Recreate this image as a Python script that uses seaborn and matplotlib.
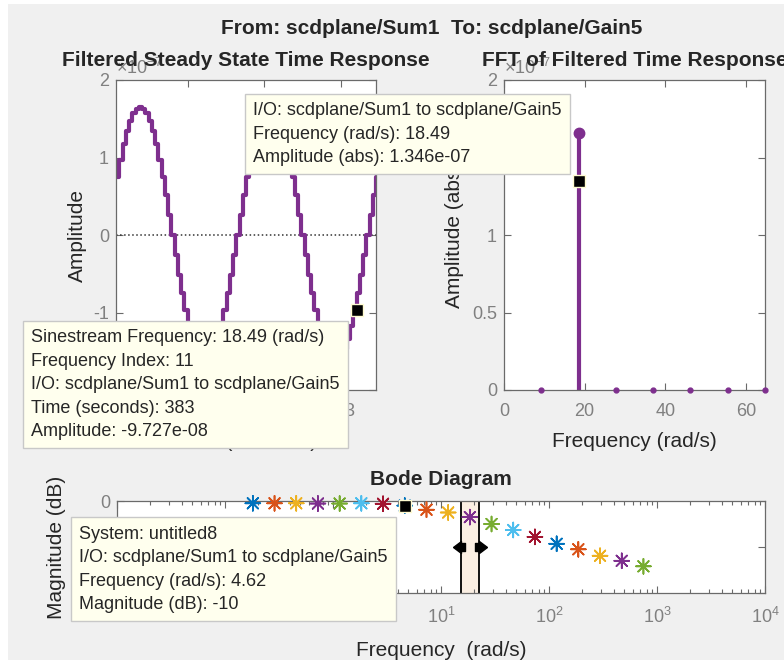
import numpy as np
import matplotlib
matplotlib.use("Agg")
import matplotlib.pyplot as plt
from matplotlib.path import Path
from matplotlib.patches import Rectangle
from matplotlib.ticker import FormatStrFormatter
import seaborn as sns

# ---- data ----
# filtered steady state time response (amplitude in units of 1e-7)
time_start = 382.413      # s, first sample shown
sample_time = 0.008495    # s
amp_time_e7 = [
    0.75, 0.97, 1.17, 1.34, 1.47, 1.57, 1.63, 1.65, 1.63, 1.57,
    1.47, 1.34, 1.17, 0.97, 0.75, 0.51, 0.26, 0.00, -0.26, -0.51,
    -0.75, -0.97, -1.17, -1.34, -1.47, -1.57, -1.63, -1.65, -1.63, -1.57,
    -1.47, -1.34, -1.17, -0.97, -0.75, -0.51, -0.26, 0.00, 0.26, 0.51,
    0.75, 0.97, 1.17, 1.34, 1.47, 1.57, 1.63, 1.65, 1.63, 1.57,
    1.47, 1.34, 1.17, 0.97, 0.75, 0.51, 0.26, 0.00, -0.26, -0.51,
    -0.75, -0.97, -1.17, -1.34, -1.47, -1.57, -1.63, -1.65, -1.63, -1.57,
    -1.47, -1.34, -1.17, -0.97, -0.75, -0.51, -0.26, 0.00, 0.26, 0.51,
    0.75,
]
time_tip_index = 73
time_ticks = [382.6, 382.8, 383.0]

# FFT of filtered response
fft_freq = [9.245, 18.49, 27.74, 36.98, 46.23, 55.47, 64.72]
fft_amp_e7 = [0.0, 1.66, 0.0, 0.0, 0.0, 0.0, 0.0]
fft_tip_amp_e7 = 1.346

# Bode diagram (frd points)
bode_freq = [0.181, 0.2875, 0.4567, 0.7253, 1.152, 1.830, 2.907, 4.62, 7.34,
             11.65, 18.49, 29.37, 46.65, 74.09, 117.7, 186.9, 296.9, 471.5, 748.9]
bode_mag_db = [-5, -5, -5, -5.5, -5.5, -5, -6, -10, -19,
               -25, -35, -50, -63, -78, -93, -105, -119, -130, -142]
bode_tip_index = 7
band_lo, band_hi = 15.2, 22.5

tip_fft = "I/O: scdplane/Sum1 to scdplane/Gain5\nFrequency (rad/s): 18.49\nAmplitude (abs): 1.346e-07"
tip_time = ("Sinestream Frequency: 18.49 (rad/s)\nFrequency Index: 11\n"
            "I/O: scdplane/Sum1 to scdplane/Gain5\nTime (seconds): 383\nAmplitude: -9.727e-08")
tip_bode = "System: untitled8\nI/O: scdplane/Sum1 to scdplane/Gain5\nFrequency (rad/s): 4.62\nMagnitude (dB): -10"

matlab_colors = ["#0072BD", "#D95319", "#EDB120", "#7E2F8E", "#77AC30", "#4DBEEE", "#A2142F"]
purple = "#7E2F8E"
gray_bg = "#f0f0f0"

sns.set_theme(style="white")
plt.rcParams.update({
    "font.family": ["Liberation Sans", "DejaVu Sans"],
    "axes.unicode_minus": False,
    "mathtext.fontset": "custom",
    "mathtext.rm": "Liberation Sans",
    "mathtext.it": "Liberation Sans:italic",
    "mathtext.bf": "Liberation Sans:bold",
    "axes.edgecolor": "#6a6a6a",
    "axes.linewidth": 0.9,
    "text.color": "#262626",
    "axes.labelcolor": "#262626",
})

W, H = 784, 660
fig = plt.figure(figsize=(W / 100, H / 100), dpi=100)
fig.patch.set_facecolor("white")
fig.patches.append(Rectangle((8 / W, 0), 1, (H - 4) / H, transform=fig.transFigure,
                             facecolor=gray_bg, edgecolor="none", zorder=-5))


def px_axes(x0, y0, x1, y1):
    return fig.add_axes([x0 / W, 1 - y1 / H, (x1 - x0) / W, (y1 - y0) / H])


def style(ax):
    ax.set_facecolor("white")
    ax.tick_params(which="both", direction="in", top=True, right=True,
                   bottom=True, left=True, color="#6a6a6a", labelcolor="#808080",
                   labelsize=13, width=0.8)
    ax.tick_params(which="major", length=5)
    ax.tick_params(which="minor", length=3)
    ax.tick_params(axis="x", pad=9.4)
    ax.tick_params(axis="y", pad=5)
    for s in ax.spines.values():
        s.set_visible(True)


tip_box = dict(boxstyle="square,pad=0.45", fc="#ffffee", ec="#c8c8c8", lw=1)
tip_kw = dict(textcoords="offset pixels", ha="right", multialignment="left",
              fontsize=13, color="#262626", linespacing=1.5, bbox=tip_box,
              zorder=20, annotation_clip=False)
dt_kw = dict(marker="s", ms=9, color="black", mec="#fffbd0", mew=1, zorder=15, clip_on=False)

# ---- time response ----
ax_t = px_axes(116, 80, 376, 390)
time_s = time_start + sample_time * np.arange(len(amp_time_e7))
sns.lineplot(x=time_s, y=amp_time_e7, ax=ax_t, color=purple, linewidth=3,
             drawstyle="steps-post", sort=False)
ax_t.axhline(0, ls=":", color="#333333", lw=1.1, zorder=1)
ax_t.set_xlim(time_s[0], time_s[-1])
ax_t.set_ylim(-2, 2)
ax_t.set_xticks(time_ticks)
ax_t.xaxis.set_major_formatter(FormatStrFormatter("%g"))
ax_t.set_yticks([-2, -1, 0, 1, 2])
ax_t.yaxis.set_major_formatter(FormatStrFormatter("%g"))
style(ax_t)
ax_t.set_title("Filtered Steady State Time Response", fontsize=15, fontweight="bold", pad=10)
ax_t.set_ylabel("Amplitude", fontsize=15, labelpad=4.5)
ax_t.set_xlabel("Time (seconds)", fontsize=15, labelpad=8.5)
ax_t.text(0.0, 1.005, r"$\times10^{-7}$", transform=ax_t.transAxes, fontsize=13,
          color="#808080", ha="left", va="bottom")
# datatip sits on the stair vertex closing the selected sample
tip_xy = (time_s[time_tip_index + 1], amp_time_e7[time_tip_index])
ax_t.plot(*tip_xy, **dt_kw)
ax_t.annotate(tip_time, xy=tip_xy, xytext=(-17, -19), va="top", **tip_kw)

# ---- FFT ----
ax_f = px_axes(504, 80, 765, 390)
f = np.array(fft_freq)
a = np.array(fft_amp_e7)
ax_f.vlines(f, 0, a, color=purple, lw=3)
ax_f.plot(f[a > 0], a[a > 0], "o", ms=7.5, color=purple, clip_on=False)
ax_f.plot(f[a == 0], a[a == 0], "o", ms=3.5, color=purple, clip_on=False, zorder=5)
ax_f.set_xlim(0, fft_freq[-1])
ax_f.set_ylim(0, 2)
ax_f.set_xticks([0, 20, 40, 60])
ax_f.set_yticks([0, 0.5, 1, 1.5, 2])
ax_f.yaxis.set_major_formatter(FormatStrFormatter("%g"))
style(ax_f)
ax_f.set_title("FFT of Filtered Time Response", fontsize=15, fontweight="bold", pad=10)
ax_f.set_ylabel("Amplitude (abs)", fontsize=15, labelpad=6)
ax_f.set_xlabel("Frequency (rad/s)", fontsize=15, labelpad=8.5)
ax_f.text(0.0, 1.005, r"$\times10^{-7}$", transform=ax_f.transAxes, fontsize=13,
          color="#808080", ha="left", va="bottom")
ax_f.plot(fft_freq[1], fft_tip_amp_e7, **dt_kw)
ax_f.annotate(tip_fft, xy=(fft_freq[1], fft_tip_amp_e7), xytext=(-17, 15),
              va="bottom", **tip_kw)

# ---- Bode ----
ax_b = px_axes(117, 501, 765, 593)
ax_b.set_xscale("log")
ax_b.axvspan(band_lo, band_hi, facecolor="#fbefe3", edgecolor="none", zorder=0.5)
for xv in (band_lo, band_hi):
    ax_b.axvline(xv, color="black", lw=1.3, zorder=1)
left_arrow = Path([(-8, 0), (0, 6), (0, 4), (4, 4), (4, -4), (0, -4), (0, -6), (-8, 0)])
right_arrow = Path([(8, 0), (0, 6), (0, 4), (-4, 4), (-4, -4), (0, -4), (0, -6), (8, 0)])
ax_b.plot(band_lo, -100, marker=left_arrow, ms=11.5, color="black", zorder=6)
ax_b.plot(band_hi, -100, marker=right_arrow, ms=11.5, color="black", zorder=6)
cols = [matlab_colors[i % len(matlab_colors)] for i in range(len(bode_freq))]
ax_b.scatter(bode_freq, bode_mag_db, marker=(8, 2, 0), s=115, c=cols, linewidths=1.2,
             clip_on=False, zorder=7)
ax_b.scatter(bode_freq, bode_mag_db, marker="o", s=10, c=cols, linewidths=0,
             clip_on=False, zorder=7)
ax_b.set_xlim(1e-2, 1e4)
ax_b.set_ylim(-200, 0)
ax_b.set_yticks([-200, -100, 0])
ax_b.yaxis.set_major_formatter(FormatStrFormatter("%g"))
style(ax_b)
ax_b.tick_params(axis="x", pad=10)
ax_b.set_title("Bode Diagram", fontsize=15, fontweight="bold", pad=11.5)
ax_b.set_ylabel("Magnitude (dB)", fontsize=15, labelpad=6)
ax_b.set_xlabel("Frequency  (rad/s)", fontsize=15, labelpad=10)
ax_b.plot(bode_freq[bode_tip_index], bode_mag_db[bode_tip_index], **dt_kw)
ax_b.annotate(tip_bode, xy=(bode_freq[bode_tip_index], bode_mag_db[bode_tip_index]),
              xytext=(-17, -20), va="top", **tip_kw)

fig.suptitle("From: scdplane/Sum1  To: scdplane/Gain5", x=431.5 / W, y=1 - 34.3 / H,
             va="baseline", fontsize=15, fontweight="bold")

fig.savefig("out.png", dpi=100, facecolor=fig.get_facecolor())
